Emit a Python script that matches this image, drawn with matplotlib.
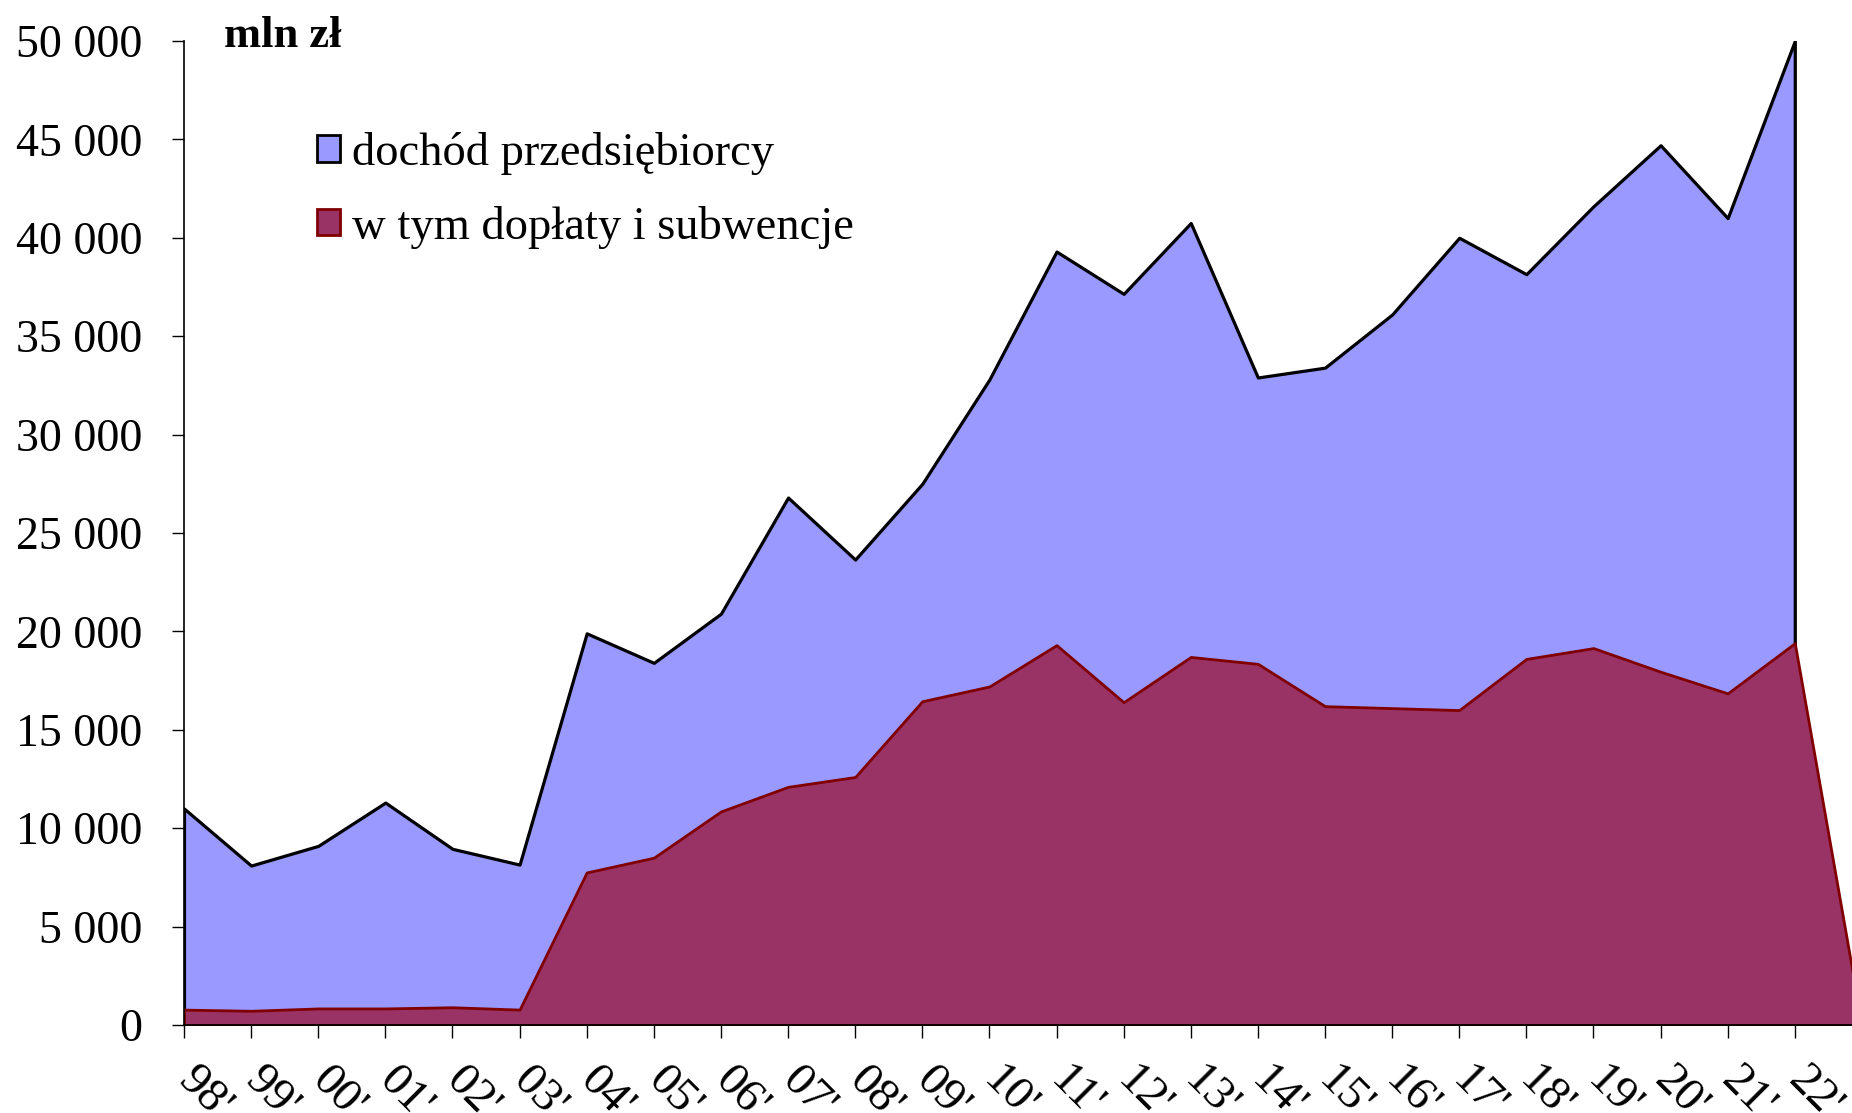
import matplotlib.pyplot as plt
from matplotlib.patches import Patch

years = ["98", "99", "00", "01", "02", "03", "04", "05", "06", "07", "08", "09",
         "10", "11", "12", "13", "14", "15", "16", "17", "18", "19", "20", "21", "22", "23"]
# dochód przedsiębiorcy (98..22)
dochod = [11000, 8100, 9100, 11300, 8950, 8150, 19900, 18400, 20900, 26800, 23650, 27500,
          32800, 39300, 37150, 40750, 32900, 33400, 36100, 40000, 38150, 41600, 44700, 41000, 50000]
# w tym dopłaty i subwencje (98..23)
doplaty = [780, 720, 840, 840, 900, 780, 7750, 8500, 10850, 12100, 12600, 16450,
           17200, 19300, 16400, 18700, 18350, 16200, 16100, 16000, 18600, 19150, 17950, 16850, 19400, 0]
yticks = [0, 5000, 10000, 15000, 20000, 25000, 30000, 35000, 40000, 45000, 50000]

plt.rcParams['font.family'] = ['Liberation Serif', 'DejaVu Serif']

fig = plt.figure(figsize=(18.52, 11.13), dpi=100)
ax = fig.add_axes([0.09935, 0.0791, 0.906, 0.8841])

xb = list(range(len(dochod)))
xr = list(range(len(doplaty)))
ax.fill_between(xb, dochod, 0, facecolor='#9999FF', edgecolor='black', linewidth=2.3, zorder=2)
ax.fill_between(xr, doplaty, 0, facecolor='#993366', edgecolor='#800000', linewidth=2.0, zorder=3)

ax.set_xlim(0, len(years) - 1)
ax.set_ylim(0, 50000)
ax.set_yticks(yticks)
ax.set_yticklabels([f"{v:,}".replace(",", " ") for v in yticks], fontsize=33)
ax.set_xticks(xr)
ax.set_xticklabels([y + "'" for y in years], fontsize=34, rotation=-45,
                   ha='left', va='center', rotation_mode='anchor')

for s in ['top', 'right']:
    ax.spines[s].set_visible(False)
ax.spines['left'].set_linewidth(1.2)
ax.spines['bottom'].set_linewidth(1.2)
ax.spines['left'].set_zorder(5)
ax.spines['bottom'].set_zorder(5)
ax.tick_params(axis='y', direction='out', length=9, width=1.0, pad=21, colors='black')
ax.tick_params(axis='x', direction='out', length=9, width=1.0, pad=26, colors='black')

fig.text(224 / 1852, 1 - 36 / 1113, "mln zł", fontsize=32, fontweight='bold', va='center', ha='left')

handles = [Patch(facecolor='#9999FF', edgecolor='black', linewidth=2),
           Patch(facecolor='#993366', edgecolor='#800000', linewidth=2)]
fig.legend(handles, ["dochód przedsiębiorcy", "w tym dopłaty i subwencje"],
           loc='upper left', bbox_to_anchor=(317 / 1852, 1 - 132 / 1113), frameon=False,
           fontsize=33.5, handlelength=0.5, handleheight=0.5, handletextpad=0.25,
           labelspacing=0.66, borderpad=0, borderaxespad=0)

fig.savefig("out.png", dpi=100)
